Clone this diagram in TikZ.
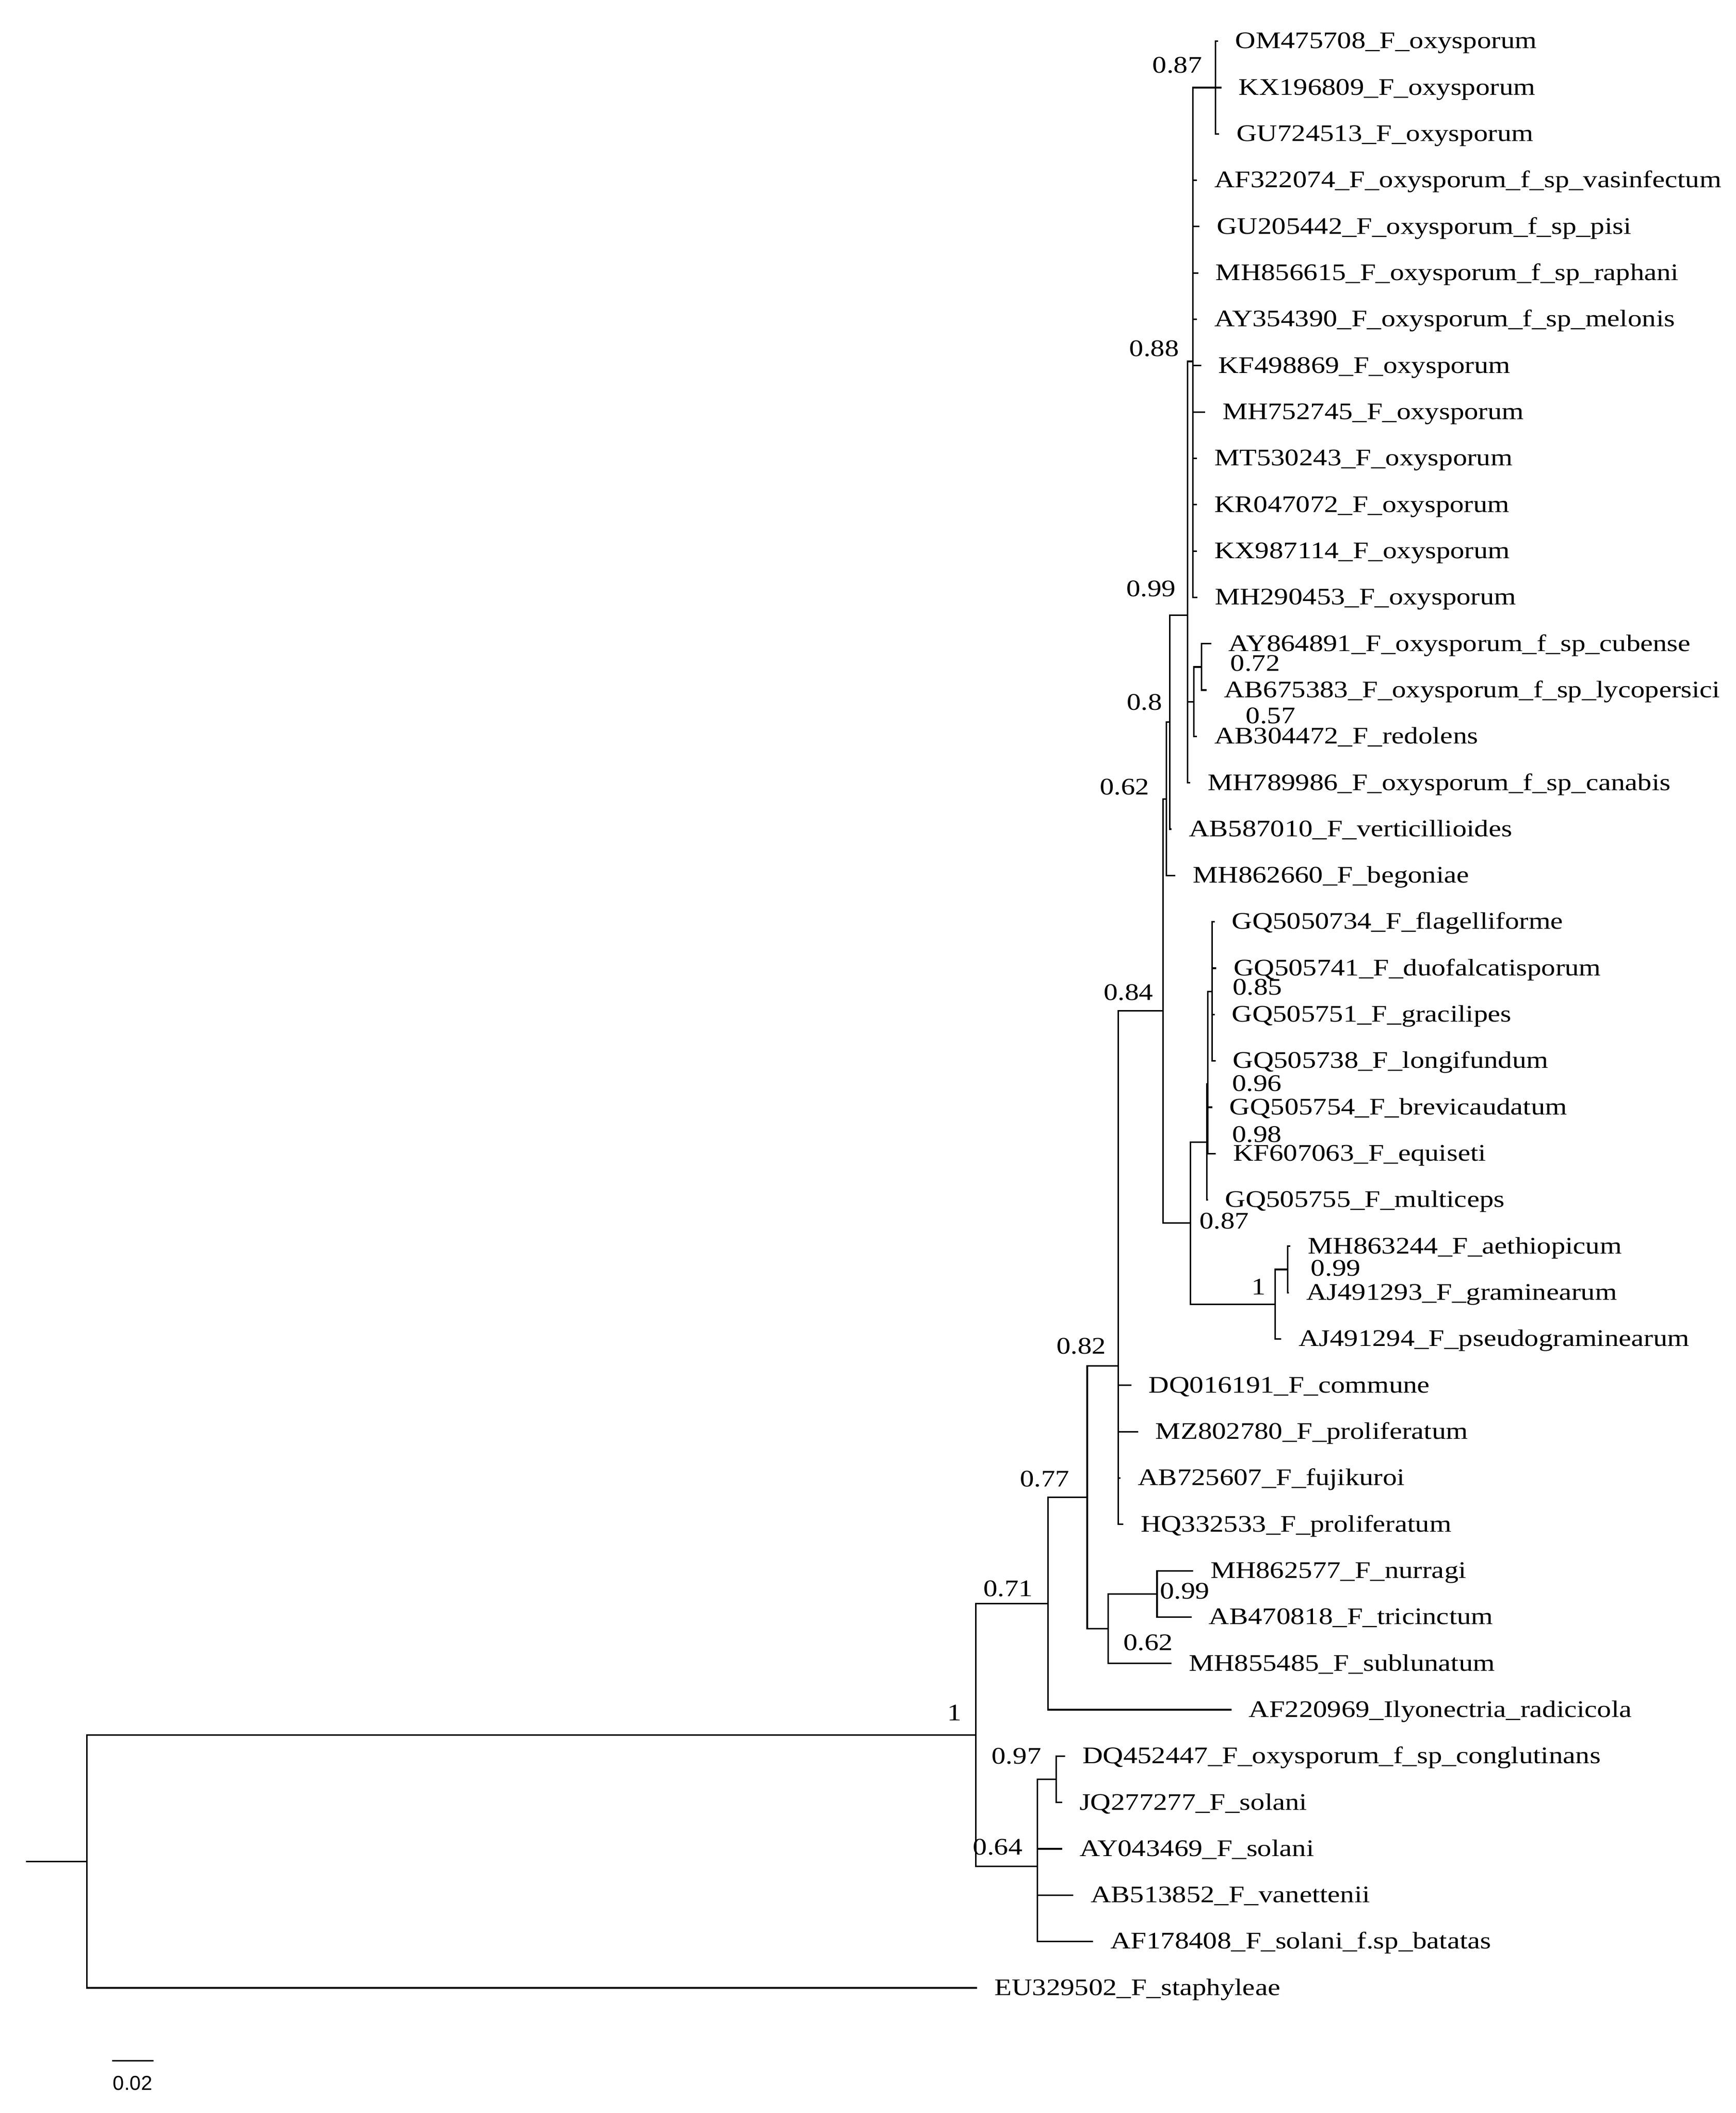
\documentclass[tikz,border=0pt]{standalone}
\usepackage{fontspec}
\setmainfont{Liberation Serif}[FakeStretch=1.19]
\newfontfamily\barfont{Liberation Sans}
\begin{document}
\begin{tikzpicture}[x=0.02cm, y=-0.686cm,
  branch/.style={draw, line width=0.65pt},
  leaf/.style={anchor=west, inner xsep=0.25cm, inner ysep=0pt, text height=0.66em, text depth=0.04em, font=\fontsize{10}{12}\selectfont},
  supp/.style={inner sep=0pt, text height=0.66em, text depth=0pt, font=\fontsize{10}{12}\selectfont}]
\useasboundingbox (0,0.111) rectangle (1284.2,45.70);

\node[leaf] (1) at (901,1) {OM475708\_F\_oxysporum};
\node[leaf] (2) at (903.5,2) {KX196809\_F\_oxysporum};
\node[leaf] (3) at (902,3) {GU724513\_F\_oxysporum};
\node[leaf] (4) at (885.5,4) {AF322074\_F\_oxysporum\_f\_sp\_vasinfectum};
\node[leaf] (5) at (887.4,5) {GU205442\_F\_oxysporum\_f\_sp\_pisi};
\node[leaf] (6) at (886.5,6) {MH856615\_F\_oxysporum\_f\_sp\_raphani};
\node[leaf] (7) at (885.5,7) {AY354390\_F\_oxysporum\_f\_sp\_melonis};
\node[leaf] (8) at (888.5,8) {KF498869\_F\_oxysporum};
\node[leaf] (9) at (891.5,9) {MH752745\_F\_oxysporum};
\node[leaf] (10) at (885.5,10) {MT530243\_F\_oxysporum};
\node[leaf] (11) at (885.5,11) {KR047072\_F\_oxysporum};
\node[leaf] (12) at (885.5,12) {KX987114\_F\_oxysporum};
\node[leaf] (13) at (885.8,13) {MH290453\_F\_oxysporum};
\node[leaf] (14) at (896,14) {AY864891\_F\_oxysporum\_f\_sp\_cubense};
\node[leaf] (15) at (892.7,15) {AB675383\_F\_oxysporum\_f\_sp\_lycopersici};
\node[leaf] (16) at (885.5,16) {AB304472\_F\_redolens};
\node[leaf] (17) at (880.5,17) {MH789986\_F\_oxysporum\_f\_sp\_canabis};
\node[leaf] (18) at (866.6,18) {AB587010\_F\_verticillioides};
\node[leaf] (19) at (869.6,19) {MH862660\_F\_begoniae};
\node[leaf] (20) at (898.5,20) {GQ5050734\_F\_flagelliforme};
\node[leaf] (21) at (899.8,21) {GQ505741\_F\_duofalcatisporum};
\node[leaf] (22) at (898.5,22) {GQ505751\_F\_gracilipes};
\node[leaf] (23) at (899.2,23) {GQ505738\_F\_longifundum};
\node[leaf] (24) at (896.8,24) {GQ505754\_F\_brevicaudatum};
\node[leaf] (25) at (899.5,25) {KF607063\_F\_equiseti};
\node[leaf] (26) at (893.5,26) {GQ505755\_F\_multiceps};
\node[leaf] (27) at (954.7,27) {MH863244\_F\_aethiopicum};
\node[leaf] (28) at (953.5,28) {AJ491293\_F\_graminearum};
\node[leaf] (29) at (947.8,29) {AJ491294\_F\_pseudograminearum};
\node[leaf] (30) at (837,30) {DQ016191\_F\_commune};
\node[leaf] (31) at (842,31) {MZ802780\_F\_proliferatum};
\node[leaf] (32) at (829,32) {AB725607\_F\_fujikuroi};
\node[leaf] (33) at (831,33) {HQ332533\_F\_proliferatum};
\node[leaf] (34) at (882.6,34) {MH862577\_F\_nurragi};
\node[leaf] (35) at (881.5,35) {AB470818\_F\_tricinctum};
\node[leaf] (36) at (866.6,36) {MH855485\_F\_sublunatum};
\node[leaf] (37) at (911,37) {AF220969\_Ilyonectria\_radicicola};
\node[leaf] (38) at (788,38) {DQ452447\_F\_oxysporum\_f\_sp\_conglutinans};
\node[leaf] (39) at (785.8,39) {JQ277277\_F\_solani};
\node[leaf] (40) at (785.8,40) {AY043469\_F\_solani};
\node[leaf] (41) at (794,41) {AB513852\_F\_vanettenii};
\node[leaf] (42) at (808.7,42) {AF178408\_F\_solani\_f.sp\_batatas};
\node[leaf] (43) at (722.9,43) {EU329502\_F\_staphyleae};

\coordinate (s) at (19.4,40.271);
\coordinate (r) at (64.4,40.271);
\coordinate (a) at (722,37.542);
\coordinate (b) at (775.2,34.709);
\coordinate (c) at (804.3,32.417);
\coordinate (d) at (827.3,29.585);
\coordinate (e) at (860.5,21.923);
\coordinate (f) at (863,17.347);
\coordinate (g) at (865.4,15.693);
\coordinate (h) at (878.6,13.386);
\coordinate (i) at (882.4,7.909);
\coordinate (j) at (899.2,2);
\coordinate (k) at (883.2,15.25);
\coordinate (l) at (888.9,14.5);
\coordinate (m) at (880.8,26.5);
\coordinate (n) at (892.7,24.75);
\coordinate (o) at (893.6,23.5);
\coordinate (p) at (896.8,21.5);
\coordinate (q) at (943.4,28.25);
\coordinate (t) at (952.5,27.5);
\coordinate (u) at (819.7,35.25);
\coordinate (v) at (855.9,34.5);
\coordinate (w) at (767.5,40.375);
\coordinate (z) at (781.2,38.5);

\node[supp, anchor=east] (la) at (711.6,37.06) {1};
\node[supp, anchor=east] (lb) at (764.5,34.39) {0.71};
\node[supp, anchor=east] (lc) at (791.5,32.02) {0.77};
\node[supp, anchor=east] (ld) at (818.5,29.155) {0.82};
\node[supp, anchor=east] (le) at (853.5,21.525) {0.84};
\node[supp, anchor=east] (lf) at (850.5,17.093) {0.62};
\node[supp, anchor=east] (lg) at (860,15.257) {0.8};
\node[supp, anchor=east] (lh) at (870.1,12.816) {0.99};
\node[supp, anchor=east] (li) at (872.5,7.633) {0.88};
\node[supp, anchor=east] (lj) at (889.6,1.51) {0.87};
\node[supp, anchor=east] (lw) at (756.8,39.96) {0.64};
\node[supp, anchor=east] (lz) at (770.6,38.00) {0.97};
\node[supp, anchor=west] (ll) at (910,14.425) {0.72};
\node[supp, anchor=west] (lk) at (921.4,15.55) {0.57};
\node[supp, anchor=west] (lp) at (911.5,21.41) {0.85};
\node[supp, anchor=west] (lo) at (911.3,23.48) {0.96};
\node[supp, anchor=west] (ln) at (911.3,24.58) {0.98};
\node[supp, anchor=west] (lm) at (887,26.45) {0.87};
\node[supp, anchor=west] (lq) at (925.6,27.88) {1};
\node[supp, anchor=west] (lt) at (969.5,27.47) {0.99};
\node[supp, anchor=west] (lv) at (857.8,34.44) {0.99};
\node[supp, anchor=west] (lu) at (830.7,35.55) {0.62};

\path[branch] (s) -- (r);
\path[branch] (r) |- (a);
\path[branch] (r) |- (43.west);
\path[branch] (a) |- (b);
\path[branch] (a) |- (w);
\path[branch] (b) |- (c);
\path[branch] (b) |- (37.west);
\path[branch] (c) |- (d);
\path[branch] (c) |- (u);
\path[branch] (d) |- (e);
\path[branch] (d) |- (30.west);
\path[branch] (d) |- (31.west);
\path[branch] (d) |- (32.west);
\path[branch] (d) |- (33.west);
\path[branch] (e) |- (f);
\path[branch] (e) |- (m);
\path[branch] (f) |- (g);
\path[branch] (f) |- (19.west);
\path[branch] (g) |- (h);
\path[branch] (g) |- (18.west);
\path[branch] (h) |- (i);
\path[branch] (h) |- (k);
\path[branch] (h) |- (17.west);
\path[branch] (i) |- (j);
\path[branch] (i) |- (4.west);
\path[branch] (i) |- (5.west);
\path[branch] (i) |- (6.west);
\path[branch] (i) |- (7.west);
\path[branch] (i) |- (8.west);
\path[branch] (i) |- (9.west);
\path[branch] (i) |- (10.west);
\path[branch] (i) |- (11.west);
\path[branch] (i) |- (12.west);
\path[branch] (i) |- (13.west);
\path[branch] (j) |- (1.west);
\path[branch] (j) |- (2.west);
\path[branch] (j) |- (3.west);
\path[branch] (k) |- (l);
\path[branch] (k) |- (16.west);
\path[branch] (l) |- (14.west);
\path[branch] (l) |- (15.west);
\path[branch] (m) |- (n);
\path[branch] (m) |- (q);
\path[branch] (n) |- (o);
\path[branch] (n) |- (26.west);
\path[branch] (o) |- (p);
\path[branch] (o) |- (24.west);
\path[branch] (o) |- (25.west);
\path[branch] (p) |- (20.west);
\path[branch] (p) |- (21.west);
\path[branch] (p) |- (22.west);
\path[branch] (p) |- (23.west);
\path[branch] (q) |- (t);
\path[branch] (q) |- (29.west);
\path[branch] (t) |- (27.west);
\path[branch] (t) |- (28.west);
\path[branch] (u) |- (v);
\path[branch] (u) |- (36.west);
\path[branch] (v) |- (34.west);
\path[branch] (v) |- (35.west);
\path[branch] (w) |- (z);
\path[branch] (w) |- (40.west);
\path[branch] (w) |- (41.west);
\path[branch] (w) |- (42.west);
\path[branch] (z) |- (38.west);
\path[branch] (z) |- (39.west);

\coordinate (b1) at (82.8,44.57);
\coordinate (b2) at (113.4,44.57);
\path[branch] (b1) -- (b2);
\node[inner sep=0pt, font=\barfont\fontsize{8.5}{10}\selectfont] (bar) at (98.1,45.06) {0.02};
\end{tikzpicture}
\end{document}
